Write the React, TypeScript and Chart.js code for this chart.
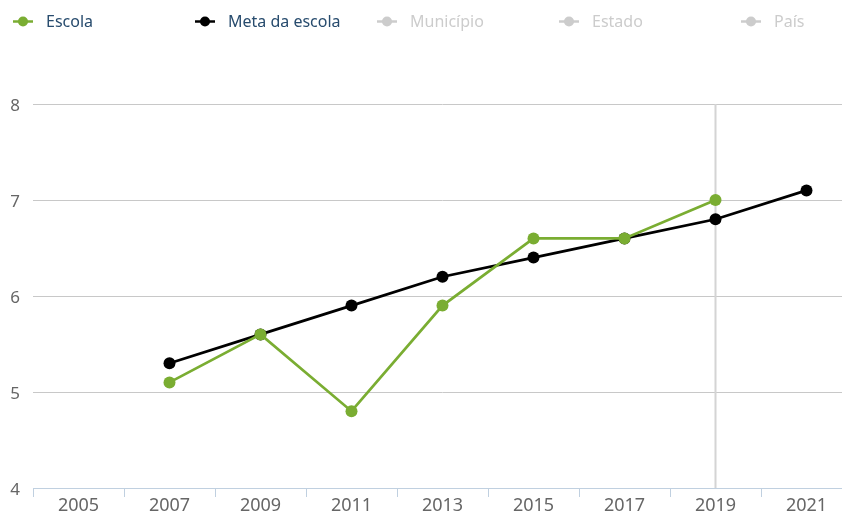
import React, { useEffect, useRef } from "react";
import { Chart, registerables } from "chart.js";

Chart.register(...registerables);

const categories = ["2005", "2007", "2009", "2011", "2013", "2015", "2017", "2019", "2021"];
const escola = [null, 5.1, 5.6, 4.8, 5.9, 6.6, 6.6, 7.0, null];
const metaEscola = [null, 5.3, 5.6, 5.9, 6.2, 6.4, 6.6, 6.8, 7.1];
const municipio: (number | null)[] = [];
const estado: (number | null)[] = [];
const pais: (number | null)[] = [];
const yTicks = [4, 5, 6, 7, 8];
const hoverCategory = "2019";

const FONT = "'Noto Sans', sans-serif";

const legendPlugin = {
  id: "hcLegend",
  afterDraw(chart: any) {
    const ctx = chart.ctx;
    const startX = 13;
    const step = 182;
    const y = 21.5;
    ctx.save();
    chart.data.datasets.forEach((ds: any, i: number) => {
      const visible = chart.isDatasetVisible(i);
      const x = startX + i * step;
      const color = visible ? ds.borderColor : "#cccccc";
      ctx.strokeStyle = color;
      ctx.lineWidth = 2.5;
      ctx.beginPath();
      ctx.moveTo(x, y);
      ctx.lineTo(x + 20, y);
      ctx.stroke();
      ctx.fillStyle = color;
      ctx.beginPath();
      ctx.arc(x + 10, y, 5, 0, Math.PI * 2);
      ctx.fill();
      ctx.font = `16px ${FONT}`;
      ctx.fillStyle = visible ? "#274b6d" : "#cccccc";
      ctx.textBaseline = "middle";
      ctx.textAlign = "left";
      ctx.fillText(ds.label, x + 33, y + 1);
    });
    ctx.restore();
  },
};

const crosshairPlugin = {
  id: "crosshair",
  beforeDatasetsDraw(chart: any) {
    const idx = categories.indexOf(hoverCategory);
    if (idx < 0) return;
    const x = chart.scales.x.getPixelForValue(idx);
    const { top, bottom } = chart.chartArea;
    const ctx = chart.ctx;
    ctx.save();
    ctx.strokeStyle = "#d4d4d4";
    ctx.lineWidth = 2;
    ctx.beginPath();
    ctx.moveTo(x, top);
    ctx.lineTo(x, bottom);
    ctx.stroke();
    ctx.restore();
  },
};

export default function App() {
  const ref = useRef<HTMLCanvasElement>(null);
  useEffect(() => {
    if (!ref.current) return;
    const green = "#7aad32";
    const chart = new Chart(ref.current, {
      type: "line",
      data: {
        labels: categories,
        datasets: [
          {
            label: "Escola",
            data: escola,
            borderColor: green,
            backgroundColor: green,
            borderWidth: 2.7,
            pointRadius: 6,
            pointBorderWidth: 0,
            pointBackgroundColor: green,
          },
          {
            label: "Meta da escola",
            data: metaEscola,
            borderColor: "#000000",
            backgroundColor: "#000000",
            borderWidth: 2.7,
            pointRadius: 6,
            pointBorderWidth: 0,
            pointBackgroundColor: "#000000",
          },
          { label: "Município", data: municipio, borderColor: "#8bbc21", hidden: true },
          { label: "Estado", data: estado, borderColor: "#910000", hidden: true },
          { label: "País", data: pais, borderColor: "#1aadce", hidden: true },
        ] as any,
      },
      options: {
        animation: false,
        responsive: false,
        layout: { padding: { top: 104, left: 0, right: 0, bottom: 0 } },
        plugins: { legend: { display: false }, tooltip: { enabled: false } },
        scales: {
          x: {
            offset: true,
            grid: {
              offset: true,
              drawOnChartArea: false,
              drawTicks: true,
              tickLength: 9,
              color: "#c0d0e0",
              lineWidth: 1,
            },
            border: { display: true, color: "#c0d0e0", width: 1 },
            ticks: {
              color: "#666666",
              font: { family: FONT, size: 18, lineHeight: 1 },
              padding: 0,
              maxRotation: 0,
              autoSkip: false,
            },
            afterFit(scale: any) {
              scale.height = 28;
            },
          },
          y: {
            min: 4,
            max: 8,
            afterBuildTicks(scale: any) {
              scale.ticks = yTicks.map((v) => ({ value: v }));
            },
            grid: {
              drawTicks: false,
              color: (c: any) => (c.tick && c.tick.value === 4 ? "rgba(0,0,0,0)" : "#c8c8c8"),
              lineWidth: 1,
            },
            border: { display: false },
            ticks: {
              color: "#666666",
              font: { family: FONT, size: 17 },
              padding: 13,
              labelOffset: 2,
            },
            afterFit(scale: any) {
              scale.width = 33;
            },
          },
        },
      },
      plugins: [legendPlugin, crosshairPlugin],
    });
    return () => chart.destroy();
  }, []);
  return (
    <div style={{ position: "fixed", left: 0, top: 0, width: 842, height: 516, overflow: "hidden", background: "#fff" }}>
      <canvas ref={ref} width={858} height={516} style={{ width: 858, height: 516, display: "block" }} />
    </div>
  );
}
